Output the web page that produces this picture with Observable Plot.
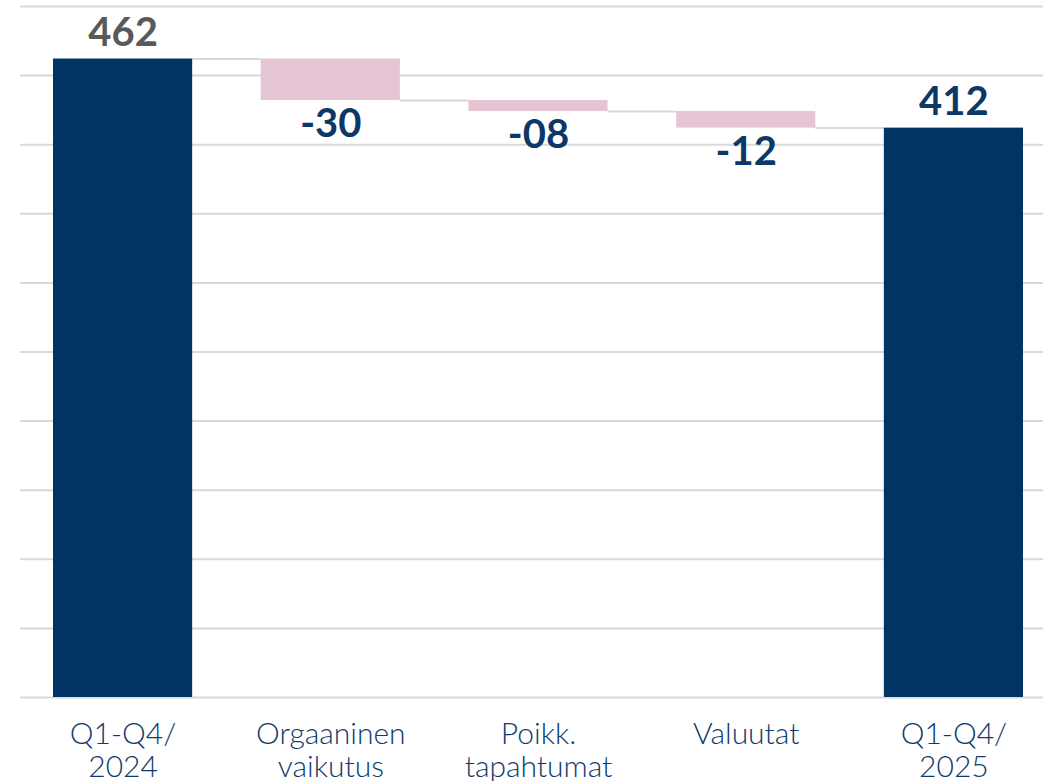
<!DOCTYPE html>
<html>
<head>
<meta charset="utf-8">
<script src="https://cdn.jsdelivr.net/npm/d3@7"></script>
<script src="https://cdn.jsdelivr.net/npm/@observablehq/plot@0.6"></script>
<style>
  html, body { margin: 0; padding: 0; background: #fff; overflow: hidden; }
  #chart svg { display: block; }
</style>
</head>
<body>
<div id="chart"></div>
<script>
// ---- data ----
const categories = ["Q1-Q4/\n2024", "Orgaaninen\nvaikutus", "Poikk.\ntapahtumat", "Valuutat", "Q1-Q4/\n2025"];
const values = [46.2, -3.0, -0.8, -1.2, 41.2];
const kinds = ["total", "delta", "delta", "delta", "total"];
const valueLabels = ["462", "-30", "-08", "-12", "412"];
const yTicks = [0, 5, 10, 15, 20, 25, 30, 35, 40, 45, 50];

// ---- build waterfall rows ----
let running = 0;
const rows = categories.map((cat, i) => {
  let y1, y2;
  if (kinds[i] === "total") { y1 = 0; y2 = values[i]; running = values[i]; }
  else { y1 = running; y2 = running + values[i]; running = y2; }
  return { cat, i, kind: kinds[i], y1, y2, top: Math.max(y1, y2), bottom: Math.min(y1, y2), end: running, label: valueLabels[i] };
});
const connectors = rows.slice(0, -1).map((r, i) => ({ from: r.cat, to: rows[i + 1].cat, level: r.end }));

const xRange = [53, 1023];
const padInner = 0.33;
const bw = d3.scaleBand(categories, xRange).paddingInner(padInner).paddingOuter(0).bandwidth();

const navy = "#003462";
const pink = "#e5c5d4";
const labelNavy = "#0c3767";
const font = "Lato, 'Open Sans', sans-serif";

const chart = Plot.plot({
  width: 1043,
  height: 800,
  marginLeft: 20,
  marginRight: 0,
  marginTop: 6,
  marginBottom: 103,
  style: { fontFamily: font, background: "#fff" },
  x: { domain: categories, range: xRange, paddingInner: padInner, paddingOuter: 0, round: false },
  y: { domain: [0, 50], axis: null },
  marks: [
    Plot.gridY(yTicks, { stroke: "#d9d9d9", strokeOpacity: 1, strokeWidth: 2 }),
    Plot.ruleY(connectors, { x1: "from", x2: "to", y: "level", stroke: "#d9d9d9", strokeWidth: 2, insetLeft: bw, insetRight: bw }),
    Plot.barY(rows, { x: "cat", y1: "y1", y2: "y2", fill: d => d.kind === "total" ? navy : pink, inset: 0 }),
    Plot.text(rows.filter(d => d.i === 0), { x: "cat", y: "top", text: "label", lineAnchor: "bottom", dy: -13, fontSize: 40, fontWeight: "bold", fill: "#595959" }),
    Plot.text(rows.filter(d => d.kind === "total" && d.i !== 0), { x: "cat", y: "top", text: "label", lineAnchor: "bottom", dy: -13, fontSize: 40, fontWeight: "bold", fill: labelNavy }),
    Plot.text(rows.filter(d => d.kind === "delta"), { x: "cat", y: "bottom", text: "label", lineAnchor: "top", dy: 8, fontSize: 40, fontWeight: "bold", fill: labelNavy }),
    Plot.axisX({ tickSize: 0, tickPadding: 22, fontSize: 30, fontWeight: 300, lineHeight: 1.13, fill: "#0f3a6b", label: null })
  ]
});
document.getElementById("chart").appendChild(chart);
</script>
</body>
</html>
